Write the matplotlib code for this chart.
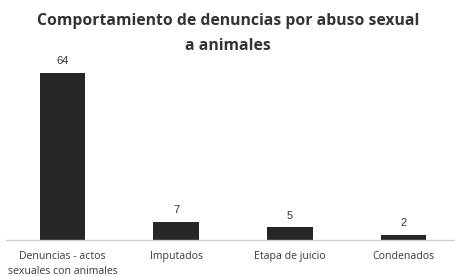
import matplotlib
matplotlib.use("Agg")
import matplotlib.pyplot as plt

categorias = ["Denuncias - actos\nsexuales con animales", "Imputados", "Etapa de juicio", "Condenados"]
valores = [64, 7, 5, 2]

plt.rcParams['font.family'] = ['Open Sans', 'DejaVu Sans']

fig = plt.figure(figsize=(4.56, 2.77), dpi=100)
ax = fig.add_axes([0.0124, 0.1336, 0.997, 0.632])

x = range(len(valores))
barras = ax.bar(x, valores, width=0.4, color="#262626")

# etiquetas de valor sobre las barras
for b, v in zip(barras, valores):
    ax.text(b.get_x() + b.get_width() / 2, v + 2.4, str(v),
            ha="center", va="bottom", fontsize=8, color="#333333",
            family=["Liberation Sans", "DejaVu Sans"])

ax.set_xlim(-0.5, 3.5)
ax.set_ylim(0, 67)
ax.set_xticks(list(x))
ax.set_xticklabels(categorias, fontsize=7.6, color="#3a3a3a", linespacing=1.45)
ax.tick_params(axis="x", length=0, pad=8)
ax.set_yticks([])
for lado in ["top", "right", "left"]:
    ax.spines[lado].set_visible(False)
ax.spines["bottom"].set_color("#d0d0d0")
ax.spines["bottom"].set_linewidth(1)

fig.text(0.5, 0.952, "Comportamiento de denuncias por abuso sexual\na animales",
         ha="center", va="top", fontsize=11.3, fontweight="bold", color="#333333",
         linespacing=1.7)

fig.savefig("out.png", dpi=100)
